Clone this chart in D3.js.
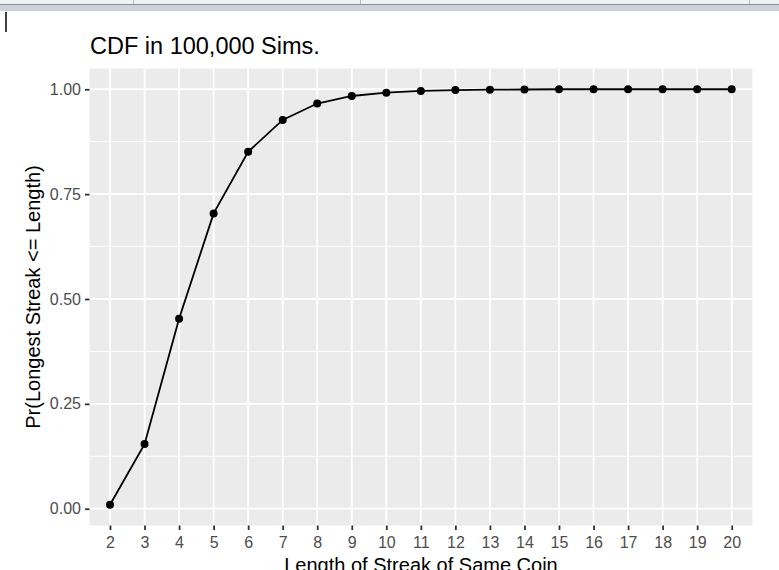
<!DOCTYPE html>
<html>
<head>
<meta charset="utf-8">
<script src="https://cdn.jsdelivr.net/npm/d3@7"></script>
<style>
  body { margin: 0; background: #fff; overflow: hidden; }
  svg { display: block; font-family: "Liberation Sans", Arial, sans-serif; }
</style>
</head>
<body>
<div id="chart"></div>
<script>
// streak lengths and the cumulative probability
const lengths = [2, 3, 4, 5, 6, 7, 8, 9, 10, 11, 12, 13, 14, 15, 16, 17, 18, 19, 20];
const cdf = [0.0095, 0.154, 0.453, 0.704, 0.851, 0.927, 0.966, 0.984, 0.992, 0.996,
             0.998, 0.999, 0.9995, 1, 1, 1, 1, 1, 1];
const yTicks = [0, 0.25, 0.5, 0.75, 1];
const yMinor = [0.125, 0.375, 0.625, 0.875];

const data = lengths.map((d, i) => ({len: d, p: cdf[i]}));

const W = 779, H = 570;
const svg = d3.select("#chart").append("svg")
    .attr("width", W)
    .attr("height", H);

// window chrome left in the screenshot
svg.append("rect").attr("x", 0).attr("y", 0).attr("width", W).attr("height", 4).attr("fill", "#eef1f5");
svg.append("rect").attr("x", 0).attr("y", 4).attr("width", W).attr("height", 7).attr("fill", "#cdd1d7");
svg.append("line").attr("x1", 0).attr("x2", W).attr("y1", 4.5).attr("y2", 4.5).attr("stroke", "#8c939c");
[133, 360, 749].forEach(x => {
    svg.append("line").attr("x1", x + 0.5).attr("x2", x + 0.5).attr("y1", 0).attr("y2", 4)
        .attr("stroke", "#b5bac1");
});
svg.append("line").attr("x1", 6).attr("x2", 6).attr("y1", 12).attr("y2", 32)
    .attr("stroke", "#000").attr("stroke-width", 1.5);

const panel = {left: 89.5, right: 752.5, top: 68.5, bottom: 525.5};

// discrete x axis (factor), 0.6 unit padding each side
const x = d3.scalePoint()
    .domain(lengths)
    .range([110, 731.7]);

const yLo = d3.min(cdf), yHi = d3.max(cdf);
const ySpan = yHi - yLo;
const y = d3.scaleLinear()
    .domain([yLo - 0.05 * ySpan, yHi + 0.05 * ySpan])
    .range([panel.bottom, panel.top]);

const g = svg.append("g");

g.append("rect")
    .attr("x", panel.left)
    .attr("y", panel.top)
    .attr("width", panel.right - panel.left)
    .attr("height", panel.bottom - panel.top)
    .attr("fill", "#ebebeb");

// minor grid
g.selectAll(".yminor").data(yMinor).enter().append("line")
    .attr("x1", panel.left).attr("x2", panel.right)
    .attr("y1", d => y(d)).attr("y2", d => y(d))
    .attr("stroke", "#fff").attr("stroke-width", 0.9);

// major grid
g.selectAll(".ymajor").data(yTicks).enter().append("line")
    .attr("x1", panel.left).attr("x2", panel.right)
    .attr("y1", d => y(d)).attr("y2", d => y(d))
    .attr("stroke", "#fff").attr("stroke-width", 1.8);

g.selectAll(".xmajor").data(lengths).enter().append("line")
    .attr("x1", d => x(d)).attr("x2", d => x(d))
    .attr("y1", panel.top).attr("y2", panel.bottom)
    .attr("stroke", "#fff").attr("stroke-width", 1.8);

// axes
const xAxis = g.append("g")
    .attr("transform", `translate(0,${panel.bottom})`)
    .call(d3.axisBottom(x).tickSize(4.5).tickPadding(4));
const yAxis = g.append("g")
    .attr("transform", `translate(${panel.left},0)`)
    .call(d3.axisLeft(y).tickValues(yTicks).tickFormat(d3.format(".2f")).tickSize(4.5).tickPadding(4));

[xAxis, yAxis].forEach(a => {
    a.select(".domain").remove();
    a.selectAll(".tick line").attr("stroke", "#333").attr("stroke-width", 1.8);
    a.selectAll(".tick text")
        .attr("fill", "#4d4d4d")
        .style("font-size", "16px")
        .style("font-family", "'Liberation Sans', Arial, sans-serif");
});
xAxis.selectAll(".tick text").attr("dy", null).attr("y", 22);

// line and points
const line = d3.line()
    .x(d => x(d.len))
    .y(d => y(d.p));

g.append("path")
    .datum(data)
    .attr("fill", "none")
    .attr("stroke", "#000")
    .attr("stroke-width", 1.8)
    .attr("d", line);

g.selectAll(".pt").data(data).enter().append("circle")
    .attr("cx", d => x(d.len))
    .attr("cy", d => y(d.p))
    .attr("r", 4)
    .attr("fill", "#000");

// titles
svg.append("text")
    .attr("x", 90)
    .attr("y", 54)
    .attr("fill", "#000")
    .style("font-size", "23.5px")
    .text("CDF in 100,000 Sims.");

svg.append("text")
    .attr("x", (panel.left + panel.right) / 2)
    .attr("y", 572)
    .attr("text-anchor", "middle")
    .attr("fill", "#000")
    .style("font-size", "20px")
    .text("Length of Streak of Same Coin");

svg.append("text")
    .attr("transform", `translate(40,${(panel.top + panel.bottom) / 2}) rotate(-90)`)
    .attr("text-anchor", "middle")
    .attr("fill", "#000")
    .style("font-size", "20px")
    .text("Pr(Longest Streak <= Length)");
</script>
</body>
</html>
